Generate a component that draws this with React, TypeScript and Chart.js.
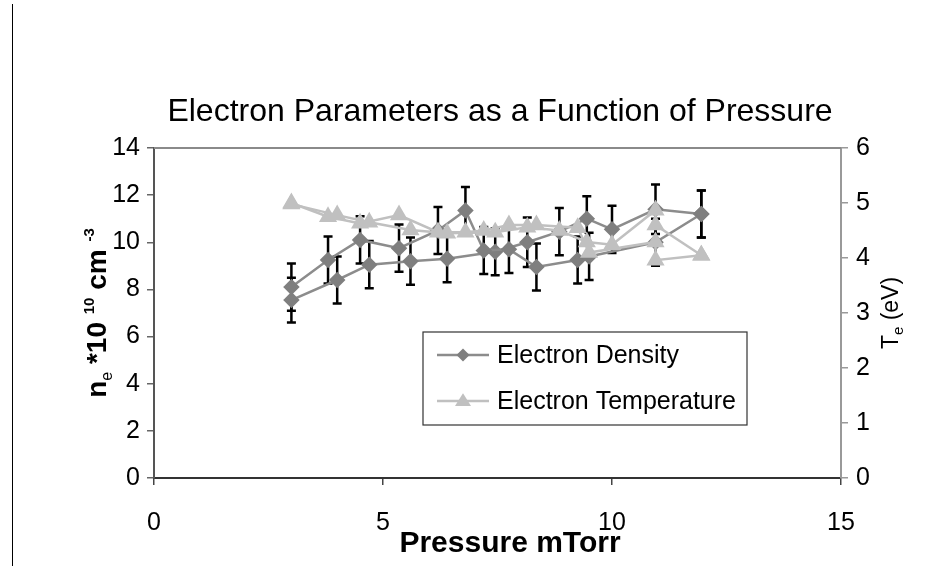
import React, { useEffect, useRef } from "react";
import { Chart, registerables } from "chart.js";
Chart.register(...registerables);

// ---- data ----
const densityXA = [3.0, 3.8, 4.5, 5.35, 6.2, 6.8, 7.2, 7.75, 8.35, 9.25, 9.5, 10.95, 11.95];
const densityYA = [8.1, 9.25, 10.1, 9.75, 10.5, 11.35, 9.65, 9.7, 8.95, 9.25, 9.4, 10.0, 11.2];
const densityErrA = [1.0, 1.0, 1.0, 1.0, 1.0, 1.0, 1.0, 1.0, 1.0, 1.0, 1.0, 1.0, 1.0];
const densityXB = [3.0, 4.0, 4.7, 5.6, 6.4, 7.45, 8.15, 8.85, 9.45, 10.0, 10.95, 11.95];
const densityYB = [7.55, 8.4, 9.05, 9.2, 9.3, 9.6, 10.0, 10.45, 11.0, 10.55, 11.4, 11.2];
const densityErrB = [0.95, 1.0, 1.0, 1.0, 1.0, 1.0, 1.05, 1.0, 0.95, 1.0, 1.05, 1.0];

const tempXA = [3.0, 3.8, 4.5, 5.35, 6.2, 6.8, 7.2, 7.75, 8.35, 9.25, 9.5, 10.95, 10.95, 11.95];
const tempYA = [5.0, 4.75, 4.63, 4.78, 4.47, 4.47, 4.5, 4.6, 4.6, 4.55, 4.1, 4.29, 3.96, 4.05];
const tempXB = [3.0, 4.0, 4.7, 5.6, 6.4, 7.45, 8.15, 8.85, 9.45, 10.0, 10.95, 10.95, 11.95];
const tempYB = [4.98, 4.78, 4.65, 4.51, 4.45, 4.47, 4.56, 4.5, 4.29, 4.24, 4.87, 4.6, 4.05];

const xTicks = [0, 5, 10, 15];
const leftTicks = [0, 2, 4, 6, 8, 10, 12, 14];
const rightTicks = [0, 1, 2, 3, 4, 5, 6];

const chartTitle = "Electron Parameters as a Function of Pressure";
const xTitle = "Pressure mTorr";
const legendLabels = ["Electron Density", "Electron Temperature"];

const FONT = "'Liberation Sans', Arial, sans-serif";
const DENS_COLOR = "#7f7f7f";
const DENS_LINE = "#8c8c8c";
const TEMP_COLOR = "#c0c0c0";

const pts = (xs: number[], ys: number[]) => xs.map((x, i) => ({ x, y: ys[i] }));

const errorBarPlugin = {
  id: "errorBars",
  beforeDatasetsDraw(chart: any) {
    const ctx = chart.ctx;
    const ys = chart.scales.y;
    const xs = chart.scales.x;
    const sets: [number[], number[], number[]][] = [
      [densityXA, densityYA, densityErrA],
      [densityXB, densityYB, densityErrB],
    ];
    ctx.save();
    ctx.strokeStyle = "#000";
    ctx.lineWidth = 2.5;
    sets.forEach(([X, Y, E]) => {
      X.forEach((x, i) => {
        const px = xs.getPixelForValue(x);
        const top = ys.getPixelForValue(Y[i] + E[i]);
        const bot = ys.getPixelForValue(Y[i] - E[i]);
        ctx.beginPath();
        ctx.moveTo(px, top);
        ctx.lineTo(px, bot);
        ctx.moveTo(px - 4.5, top);
        ctx.lineTo(px + 4.5, top);
        ctx.moveTo(px - 4.5, bot);
        ctx.lineTo(px + 4.5, bot);
        ctx.stroke();
      });
    });
    ctx.restore();
  },
};

function drawRich(ctx: CanvasRenderingContext2D, segs: any[], cx: number, cy: number, rot: number) {
  ctx.save();
  ctx.translate(cx, cy);
  ctx.rotate(rot);
  let total = 0;
  const widths = segs.map((s) => {
    ctx.font = `${s.bold ? "bold " : ""}${s.size}px ${FONT}`;
    const w = ctx.measureText(s.t).width;
    total += w;
    return w;
  });
  let x = -total / 2;
  ctx.fillStyle = "#000";
  ctx.textBaseline = "alphabetic";
  ctx.textAlign = "left";
  segs.forEach((s, i) => {
    ctx.font = `${s.bold ? "bold " : ""}${s.size}px ${FONT}`;
    ctx.fillText(s.t, x, s.dy || 0);
    x += widths[i];
  });
  ctx.restore();
}

function drawMarker(ctx: CanvasRenderingContext2D, style: string, r: number, x: number, y: number) {
  ctx.beginPath();
  if (style === "rectRot") {
    ctx.moveTo(x, y - r);
    ctx.lineTo(x + r, y);
    ctx.lineTo(x, y + r);
    ctx.lineTo(x - r, y);
  } else {
    const h = r * 1.6;
    ctx.moveTo(x, y - h * 0.6);
    ctx.lineTo(x + r, y + h * 0.4);
    ctx.lineTo(x - r, y + h * 0.4);
  }
  ctx.closePath();
  ctx.fill();
}

const decorPlugin = {
  id: "decor",
  beforeDatasetsDraw(chart: any) {
    const { ctx, chartArea } = chart;
    ctx.save();
    ctx.strokeStyle = "#8a8a8a";
    ctx.lineWidth = 2;
    ctx.beginPath();
    ctx.moveTo(chartArea.left, chartArea.top);
    ctx.lineTo(chartArea.right, chartArea.top);
    ctx.stroke();
    ctx.restore();
  },
  afterDraw(chart: any) {
    const { ctx, chartArea } = chart;
    const midY = (chartArea.top + chartArea.bottom) / 2;
    ctx.save();
    ctx.fillStyle = "#000";
    ctx.font = `32px ${FONT}`;
    ctx.textAlign = "center";
    ctx.textBaseline = "middle";
    ctx.fillText(chartTitle, 500, 112);
    ctx.font = `bold 30px ${FONT}`;
    ctx.fillText(xTitle, 510, 544);
    ctx.restore();
    drawRich(
      ctx,
      [
        { t: "n", size: 28, bold: true },
        { t: "e", size: 16, bold: false, dy: 6 },
        { t: " *10 ", size: 28, bold: true },
        { t: "10", size: 15, bold: true, dy: -12 },
        { t: " cm ", size: 28, bold: true },
        { t: "-3", size: 15, bold: true, dy: -12 },
      ],
      106,
      midY,
      -Math.PI / 2
    );
    drawRich(
      ctx,
      [
        { t: "T", size: 23 },
        { t: "e", size: 15, dy: 5 },
        { t: " (eV)", size: 23 },
      ],
      898,
      midY,
      -Math.PI / 2
    );
    const bx = 423, by = 332, bw = 324, bh = 93;
    ctx.save();
    ctx.strokeStyle = "#333";
    ctx.lineWidth = 1.2;
    ctx.strokeRect(bx, by, bw, bh);
    const rows = [
      { y: 355, color: DENS_LINE, mcolor: DENS_COLOR, style: "rectRot", r: 6.5 },
      { y: 401, color: TEMP_COLOR, mcolor: TEMP_COLOR, style: "triangle", r: 8 },
    ];
    rows.forEach((row, i) => {
      ctx.strokeStyle = row.color;
      ctx.lineWidth = 2.5;
      ctx.beginPath();
      ctx.moveTo(437, row.y);
      ctx.lineTo(489, row.y);
      ctx.stroke();
      ctx.fillStyle = row.mcolor;
      drawMarker(ctx, row.style, row.r, 463, row.y);
      ctx.fillStyle = "#000";
      ctx.font = `25px ${FONT}`;
      ctx.textAlign = "left";
      ctx.textBaseline = "middle";
      ctx.fillText(legendLabels[i], 497, row.y + 1);
    });
    ctx.restore();
  },
};

export default function App() {
  const ref = useRef<HTMLCanvasElement>(null);
  useEffect(() => {
    const canvas = ref.current;
    if (!canvas) return;
    const densStyle = {
      borderColor: DENS_LINE,
      backgroundColor: DENS_COLOR,
      pointBackgroundColor: DENS_COLOR,
      pointBorderColor: DENS_COLOR,
      pointStyle: "rectRot",
      pointRadius: 6.5,
      borderWidth: 2.5,
      showLine: true,
      yAxisID: "y",
      order: 2,
    };
    const tempStyle = {
      borderColor: TEMP_COLOR,
      backgroundColor: TEMP_COLOR,
      pointBackgroundColor: TEMP_COLOR,
      pointBorderColor: TEMP_COLOR,
      pointStyle: "triangle",
      pointRadius: 8,
      borderWidth: 2.5,
      showLine: true,
      yAxisID: "y1",
      order: 1,
    };
    const tickFont = { family: FONT, size: 25 };
    const chart = new Chart(canvas, {
      type: "scatter",
      data: {
        datasets: [
          { label: legendLabels[0], data: pts(densityXA, densityYA), ...densStyle } as any,
          { label: legendLabels[0] + " 2", data: pts(densityXB, densityYB), ...densStyle } as any,
          { label: legendLabels[1], data: pts(tempXA, tempYA), ...tempStyle } as any,
          { label: legendLabels[1] + " 2", data: pts(tempXB, tempYB), ...tempStyle } as any,
        ],
      },
      options: {
        responsive: false,
        animation: false,
        events: [],
        layout: { padding: { top: 148, left: 0, right: 0, bottom: 0 } },
        plugins: { legend: { display: false }, title: { display: false }, tooltip: { enabled: false } },
        scales: {
          x: {
            type: "linear",
            min: 0,
            max: 15,
            afterBuildTicks: (s: any) => { s.ticks = xTicks.map((v) => ({ value: v })); },
            afterFit: (s: any) => { s.height = 91; },
            ticks: { font: tickFont, color: "#000", padding: 23, maxRotation: 0 },
            grid: { drawOnChartArea: false, drawTicks: true, tickLength: 7, color: "#444", lineWidth: 1.5 },
            border: { color: "#333", width: 2 },
          },
          y: {
            type: "linear",
            position: "left",
            min: 0,
            max: 14,
            afterBuildTicks: (s: any) => { s.ticks = leftTicks.map((v) => ({ value: v })); },
            afterFit: (s: any) => { s.width = 154; },
            ticks: { font: tickFont, color: "#000", padding: 7 },
            grid: { drawOnChartArea: false, drawTicks: true, tickLength: 7, color: "#666", lineWidth: 1.5 },
            border: { color: "#555", width: 2 },
          },
          y1: {
            type: "linear",
            position: "right",
            min: 0,
            max: 6,
            afterBuildTicks: (s: any) => { s.ticks = rightTicks.map((v) => ({ value: v })); },
            afterFit: (s: any) => { s.width = 89; },
            ticks: { font: tickFont, color: "#000", padding: 8 },
            grid: { drawOnChartArea: false, drawTicks: true, tickLength: 7, color: "#999", lineWidth: 1.5 },
            border: { color: "#999", width: 2 },
          },
        },
      } as any,
      plugins: [errorBarPlugin, decorPlugin],
    });
    return () => chart.destroy();
  }, []);
  return (
    <div style={{ position: "fixed", left: 0, top: 0, width: 930, height: 569, background: "#fff" }}>
      <div style={{ position: "absolute", left: 12, top: 4, width: 1, height: 562, background: "#000" }} />
      <canvas ref={ref} width={930} height={569} style={{ position: "absolute", left: 0, top: 0, width: 930, height: 569 }} />
    </div>
  );
}
